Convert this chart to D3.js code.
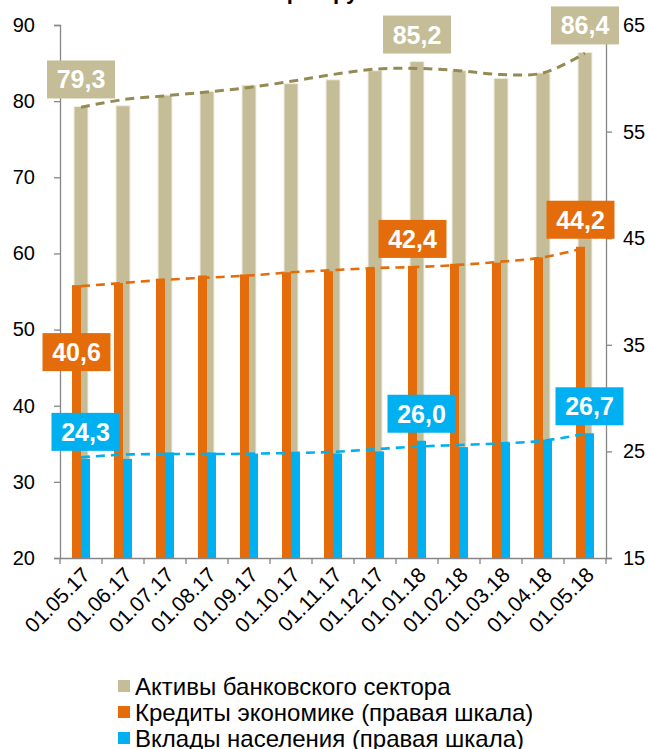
<!DOCTYPE html>
<html>
<head>
<meta charset="utf-8">
<script src="https://cdn.jsdelivr.net/npm/d3@7"></script>
<style>
  body { margin: 0; background: #fff; }
  text { font-family: "Liberation Sans", Arial, sans-serif; }
</style>
</head>
<body>
<div class="chart"></div>
<script>
const width = 648;
const height = 749;

// data
const dates = ["01.05.17", "01.06.17", "01.07.17", "01.08.17", "01.09.17", "01.10.17", "01.11.17",
               "01.12.17", "01.01.18", "01.02.18", "01.03.18", "01.04.18", "01.05.18"];
const assets = [79.3, 79.4, 80.8, 81.3, 82.1, 82.3, 82.8, 84.0, 85.2, 84.0, 83.0, 83.7, 86.4];
const credits = [40.6, 40.8, 41.2, 41.5, 41.6, 41.8, 41.9, 42.2, 42.4, 42.6, 42.7, 43.2, 44.2];
const deposits = [24.3, 24.3, 24.9, 24.9, 24.8, 24.8, 24.8, 25.0, 26.0, 25.4, 25.8, 26.1, 26.7];
// trend lines (dashed)
const assetsTrend = [79.2, 80.2, 80.7, 81.2, 81.8, 82.6, 83.5, 84.2, 84.3, 84.0, 83.5, 83.7, 86.3];
const creditsTrend = [40.5, 40.8, 41.1, 41.3, 41.5, 41.8, 42.0, 42.2, 42.3, 42.5, 42.8, 43.2, 44.1];
const depositsTrend = [24.45, 24.7, 24.75, 24.75, 24.78, 24.85, 24.95, 25.2, 25.45, 25.6, 25.75, 26.0, 26.65];
const leftTicks = [20, 30, 40, 50, 60, 70, 80, 90];
const rightTicks = [15, 25, 35, 45, 55, 65];
const labelIdx = [0, 8, 12];
const legendNames = ["Активы банковского сектора", "Кредиты экономике (правая шкала)", "Вклады населения (правая шкала)"];
const titleText = "трлн руб.";

const colTan = "#c4bd97", colOrange = "#e46c0a", colBlue = "#00b0f0";
const colTanLine = "#948a54", colAxis = "#868686";

let svg = d3.select(".chart")
    .append("svg")
    .attr("width", width)
    .attr("height", height);

const mLeft = 60, mRight = 606, mTop = 25, mBottom = 558;

let x = d3.scaleBand().domain(dates).range([mLeft, mRight]);
let yL = d3.scaleLinear().domain([20, 90]).range([mBottom, mTop]);
let yR = d3.scaleLinear().domain([15, 65]).range([mBottom, mTop]);
const bw = x.bandwidth();
let x1 = d3.scaleBand().domain(["cr", "dep"]).range([bw / 2 - 9, bw / 2 + 9]);
const cx = d => x(d) + bw / 2;

// title (cut off above the picture, only descenders show)
svg.append("text")
    .attr("x", 327).attr("y", -1)
    .attr("text-anchor", "middle")
    .style("font-size", "22px").style("font-weight", "bold")
    .text(titleText);

// asset bars (left axis)
svg.selectAll(".tan")
    .data(assets)
    .enter().append("rect")
    .attr("x", (d, i) => cx(dates[i]) - 7)
    .attr("width", 14)
    .attr("y", d => yL(d))
    .attr("height", d => mBottom - yL(d))
    .attr("fill", colTan)
    .attr("stroke", "#f1eee4").attr("stroke-width", 1);

// credits and deposits (right axis)
svg.selectAll(".cr")
    .data(credits)
    .enter().append("rect")
    .attr("x", (d, i) => x(dates[i]) + x1("cr"))
    .attr("width", x1.bandwidth())
    .attr("y", d => yR(d))
    .attr("height", d => mBottom - yR(d))
    .attr("fill", colOrange);

svg.selectAll(".dep")
    .data(deposits)
    .enter().append("rect")
    .attr("x", (d, i) => x(dates[i]) + x1("dep"))
    .attr("width", x1.bandwidth())
    .attr("y", d => yR(d))
    .attr("height", d => mBottom - yR(d))
    .attr("fill", colBlue);

// axes
let axL = svg.append("g").attr("transform", `translate(${mLeft},0)`)
    .call(d3.axisLeft(yL).tickValues(leftTicks).tickSize(6).tickPadding(19).tickFormat(d3.format("d")));
let axR = svg.append("g").attr("transform", `translate(${mRight},0)`)
    .call(d3.axisRight(yR).tickValues(rightTicks).tickSize(6).tickPadding(11).tickFormat(d3.format("d")));
let axB = svg.append("g").attr("transform", `translate(0,${mBottom})`)
    .call(d3.axisBottom(x).tickSize(0).tickFormat(""));
[axL, axR, axB].forEach(a => {
    a.select(".domain").attr("stroke", colAxis).attr("stroke-width", 1.3);
    a.selectAll(".tick line").attr("stroke", colAxis).attr("stroke-width", 1.3);
    a.selectAll("text").attr("fill", "#000").style("font-size", "20px")
        .style("font-family", "'Liberation Sans', Arial, sans-serif");
});
// category boundary ticks
axB.selectAll(".btick")
    .data(dates.concat(["end"]))
    .enter().append("line")
    .attr("x1", (d, i) => i < dates.length ? x(d) : mRight)
    .attr("x2", (d, i) => i < dates.length ? x(d) : mRight)
    .attr("y1", 0).attr("y2", 6)
    .attr("stroke", colAxis).attr("stroke-width", 1.3);
// rotated date labels
svg.selectAll(".xlab")
    .data(dates)
    .enter().append("text")
    .attr("transform", d => `translate(${cx(d) + 5},${mBottom + 13}) rotate(-45)`)
    .attr("text-anchor", "end")
    .attr("dy", "0.35em")
    .style("font-size", "21px")
    .text(d => d);

// dashed trend lines
const trends = [
    {vals: assetsTrend, y: yL, color: colTanLine, w: 3},
    {vals: creditsTrend, y: yR, color: colOrange, w: 2.6},
    {vals: depositsTrend, y: yR, color: colBlue, w: 2.6}
];
trends.forEach(t => {
    let line = d3.line()
        .x((d, i) => cx(dates[i]))
        .y(d => t.y(d))
        .curve(d3.curveCatmullRom);
    svg.append("path")
        .datum(t.vals)
        .attr("d", line)
        .attr("fill", "none")
        .attr("stroke", t.color)
        .attr("stroke-width", t.w)
        .attr("stroke-dasharray", "9,6");
});

// value labels
const fmt = v => d3.format(".1f")(v).replace(".", ",");
const labelSets = [
    {vals: assets, y: yL, color: colTan, xc: i => cx(dates[i])},
    {vals: credits, y: yR, color: colOrange, xc: i => x(dates[i]) + x1("cr") + x1.bandwidth() / 2},
    {vals: deposits, y: yR, color: colBlue, xc: i => x(dates[i]) + x1("dep") + x1.bandwidth() / 2}
];
labelSets.forEach((s, k) => {
    labelIdx.forEach(i => {
        let yc = s.y(s.vals[i]) - 27;
        if (k === 1 && i === 0) yc = s.y(s.vals[i]) + 67;
        let g = svg.append("g").attr("transform", `translate(${s.xc(i)},${yc})`);
        g.append("rect")
            .attr("x", -34).attr("y", -19)
            .attr("width", 68).attr("height", 38)
            .attr("fill", s.color);
        g.append("text")
            .attr("text-anchor", "middle")
            .attr("dy", "0.36em")
            .attr("fill", "#fff")
            .style("font-size", "25px").style("font-weight", "bold")
            .text(fmt(s.vals[i]));
    });
});

// legend
const legColors = [colTan, colOrange, colBlue];
let leg = svg.selectAll(".leg")
    .data(legendNames)
    .enter().append("g")
    .attr("transform", (d, i) => `translate(118,${686 + i * 26})`);
leg.append("rect")
    .attr("x", 0).attr("y", -6)
    .attr("width", 12).attr("height", 12)
    .attr("fill", (d, i) => legColors[i]);
leg.append("text")
    .attr("x", 17)
    .attr("dy", "0.36em")
    .style("font-size", "24px")
    .text(d => d);
</script>
</body>
</html>
